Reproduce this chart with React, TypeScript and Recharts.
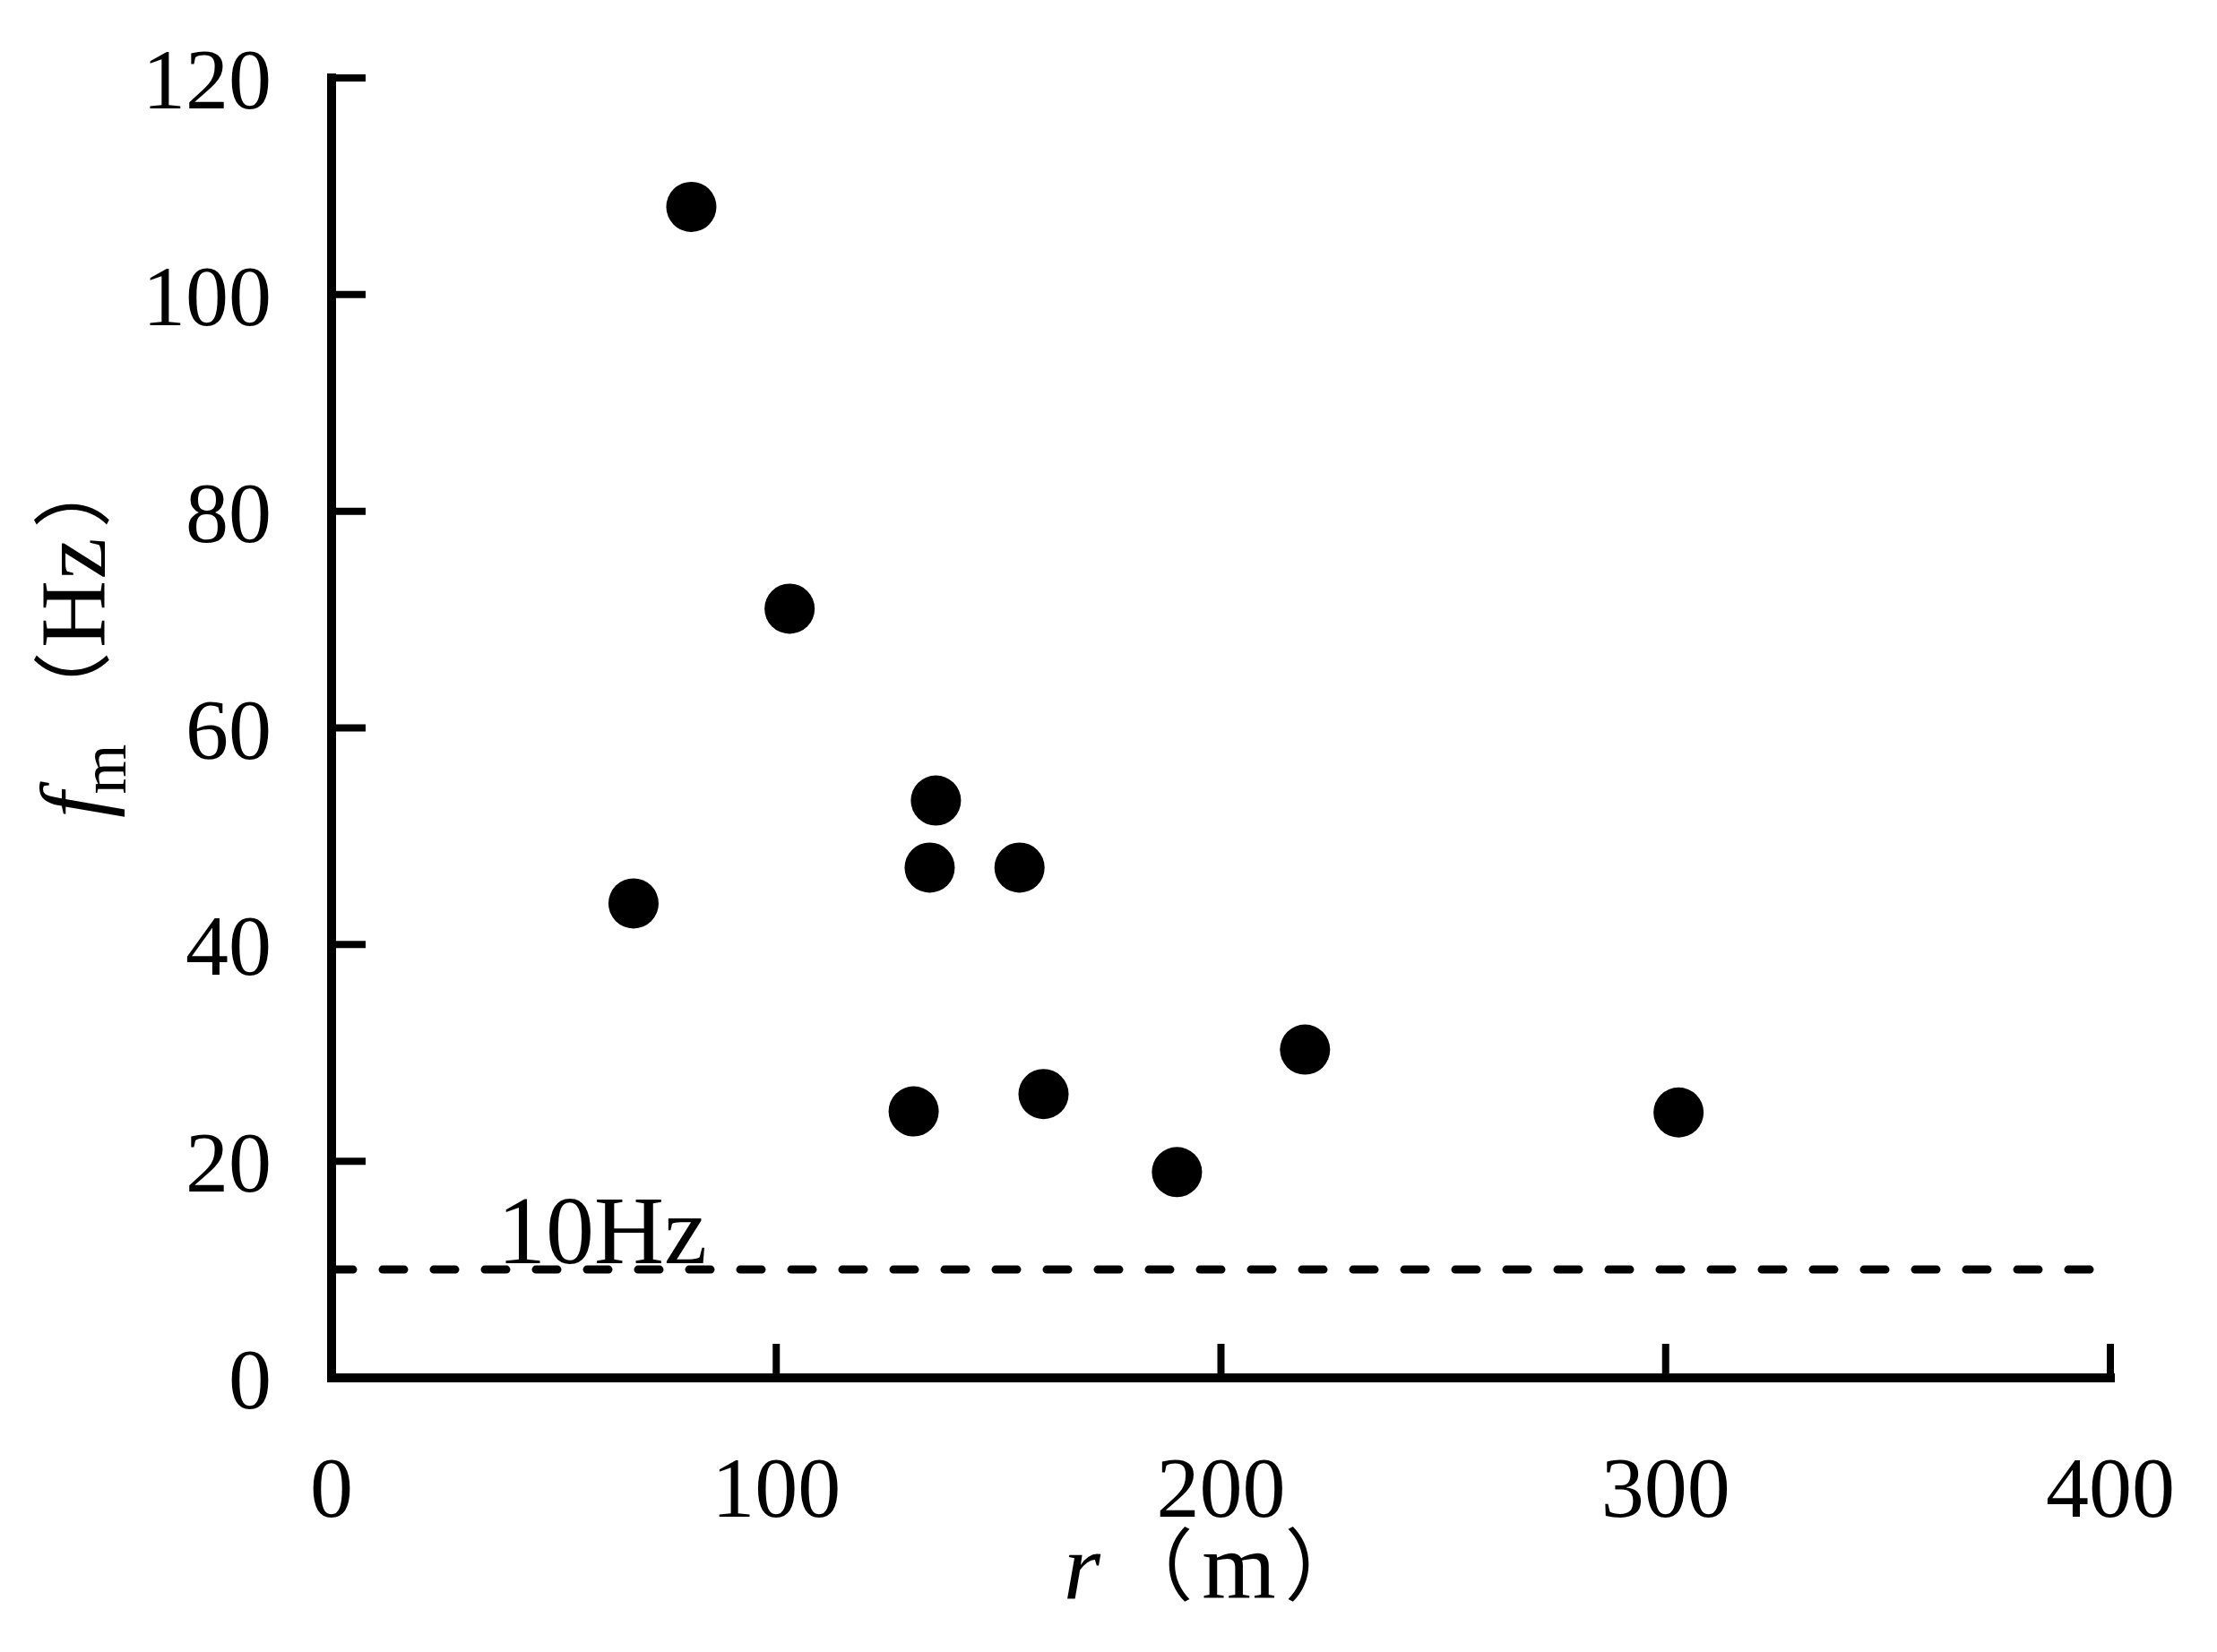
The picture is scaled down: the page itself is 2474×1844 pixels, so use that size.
import { ScatterChart, Scatter, XAxis, YAxis, ReferenceLine, Label } from 'recharts';

// distance r (m) and dominant frequency f_m (Hz)
const rDistance = [80.9, 103.0, 67.9, 135.9, 134.5, 154.7, 130.9, 160.1, 190.1, 218.9, 302.9];
const fmValue = [108.1, 71.0, 43.8, 53.3, 47.1, 47.1, 24.6, 26.2, 19.0, 30.3, 24.5];
const xTicks = [0, 100, 200, 300, 400];
const yTicks = [0, 20, 40, 60, 80, 100, 120];
const thresholdHz = 10;
const thresholdLabel = '10Hz';

const points = rDistance.map((r, i) => ({ r, fm: fmValue[i] }));

const FONT = "'Liberation Serif', 'Times New Roman', 'Noto Sans CJK SC', serif";
const CJK = "'Noto Sans CJK SC', 'Liberation Serif', serif";
const axisLineStyle = { stroke: '#000', strokeWidth: 10, strokeLinecap: 'square' as const };
const tickLineStyle = { stroke: '#000', strokeWidth: 8 };

const Dot = (props: any) => <circle cx={props.cx} cy={props.cy} r={28} fill="#000" />;

// rotated y title: f_m（Hz）, each glyph placed along the axis
const renderYLabel = ({ viewBox }: any) => {
  const bx = viewBox.x + 47; // baseline
  const cy = viewBox.y + viewBox.height / 2;
  const at = (dY: number) => bx - dY; // local x after rotation
  return (
    <text
      transform={`rotate(-90 ${bx} ${cy})`}
      fontFamily={FONT}
      fontSize={104}
      fill="#000"
      textAnchor="middle"
    >
      <tspan x={at(86)} y={cy} fontStyle="italic">f</tspan>
      <tspan x={at(46)} y={cy + 23} fontSize={72}>m</tspan>
      <tspan x={at(-41)} y={cy - 4} fontFamily={CJK} fontSize={88}>（</tspan>
      <tspan x={at(-127)} y={cy}>H</tspan>
      <tspan x={at(-189)} y={cy}>z</tspan>
      <tspan x={at(-267)} y={cy - 4} fontFamily={CJK} fontSize={88}>）</tspan>
    </text>
  );
};

const renderXLabel = ({ viewBox }: any) => {
  const cx = viewBox.x + viewBox.width / 2;
  const by = viewBox.y + 246;
  return (
    <text fontFamily={FONT} fontSize={106} fill="#000" textAnchor="middle">
      <tspan x={cx - 155} y={by} fontStyle="italic">r</tspan>
      <tspan x={cx - 75} y={by - 5} fontFamily={CJK} fontSize={88}>（</tspan>
      <tspan x={cx + 20} y={by}>m</tspan>
      <tspan x={cx + 115} y={by - 5} fontFamily={CJK} fontSize={88}>）</tspan>
    </text>
  );
};

const renderThresholdLabel = ({ viewBox }: any) => (
  <text x={viewBox.x + 185} y={viewBox.y - 7} fontFamily={FONT} fontSize={108} fill="#000">
    {thresholdLabel}
  </text>
);

export default function App() {
  return (
    <div style={{ width: 2466, height: 1836, background: '#fff' }}>
      <ScatterChart width={2466} height={1836} margin={{ top: 79, right: 119, bottom: 56, left: 62 }}>
        <XAxis
          type="number"
          dataKey="r"
          domain={[0, 400]}
          ticks={xTicks}
          interval={0}
          height={250}
          axisLine={axisLineStyle}
          tickLine={tickLineStyle}
          tickSize={-38}
          tickMargin={125}
          tick={{ fill: '#000', fontSize: 96, fontFamily: FONT }}
        >
          <Label content={renderXLabel} />
        </XAxis>
        <YAxis
          type="number"
          dataKey="fm"
          domain={[0, 120]}
          ticks={yTicks}
          interval={0}
          width={300}
          axisLine={axisLineStyle}
          tickLine={tickLineStyle}
          tickSize={-38}
          tickMargin={105}
          tick={{ fill: '#000', fontSize: 96, fontFamily: FONT }}
        >
          <Label content={renderYLabel} />
        </YAxis>
        <ReferenceLine
          y={thresholdHz}
          stroke="#000"
          strokeWidth={9}
          strokeDasharray="24 33"
          strokeLinecap="round"
          label={renderThresholdLabel}
        />
        <Scatter data={points} fill="#000" shape={Dot} isAnimationActive={false} />
      </ScatterChart>
    </div>
  );
}
